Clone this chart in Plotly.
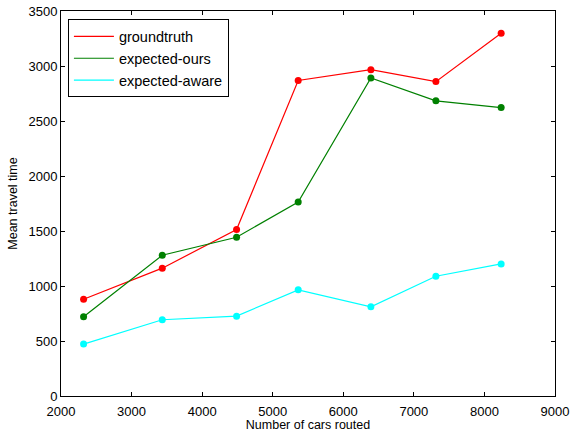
import plotly.graph_objects as go

cars = [2320, 3435, 4488, 5361, 6391, 7312, 8237]
groundtruth = [880, 1162, 1513, 2868, 2967, 2858, 3298]
expected_ours = [720, 1280, 1443, 1764, 2892, 2683, 2622]
expected_aware = [472, 693, 726, 965, 811, 1089, 1201]

series_names = ["groundtruth", "expected-ours", "expected-aware"]
series_values = [groundtruth, expected_ours, expected_aware]
colors = ["#ff0000", "#008000", "#00ffff"]

x_ticks = [2000, 3000, 4000, 5000, 6000, 7000, 8000, 9000]
y_ticks = [0, 500, 1000, 1500, 2000, 2500, 3000, 3500]

FONT = "Liberation Sans, Arial, Helvetica"

fig = go.Figure()
for name, vals, col in zip(series_names, series_values, colors):
    fig.add_trace(go.Scatter(
        x=cars, y=vals, mode="lines+markers", name=name,
        line=dict(color=col, width=1.2),
        marker=dict(color=col, size=7),
        legendgroup=name, showlegend=False,
    ))
    fig.add_trace(go.Scatter(
        x=[None], y=[None], mode="lines", name=name,
        line=dict(color=col, width=1.2),
        legendgroup=name, showlegend=True,
    ))

axis_common = dict(
    showgrid=False, zeroline=False, showline=True, linecolor="black",
    linewidth=1, mirror="ticks", ticks="inside", ticklen=4,
    tickcolor="black", tickwidth=1, automargin=False,
    tickfont=dict(family=FONT, size=13, color="black"),
)

fig.update_layout(
    width=571, height=432,
    margin=dict(l=61, r=16, t=11, b=36),
    paper_bgcolor="white", plot_bgcolor="white",
    font=dict(family=FONT, color="black"),
    xaxis=dict(range=[2000, 9000], tickvals=x_ticks, ticklabelstandoff=3,
               title=dict(text="Number of cars routed", font=dict(size=12.5), standoff=0),
               **axis_common),
    yaxis=dict(range=[0, 3500], tickvals=y_ticks,
               title=dict(text="Mean travel time", font=dict(size=12.5), standoff=8),
               **axis_common),
    legend=dict(x=0.014, y=0.978, xanchor="left", yanchor="top",
                bgcolor="white", bordercolor="black", borderwidth=1,
                font=dict(size=14.5), itemwidth=40, tracegroupgap=0),
)

fig.write_html("out.html", config={"displayModeBar": False},
               post_script="document.body.style.margin='0';document.body.style.overflow='hidden';")
